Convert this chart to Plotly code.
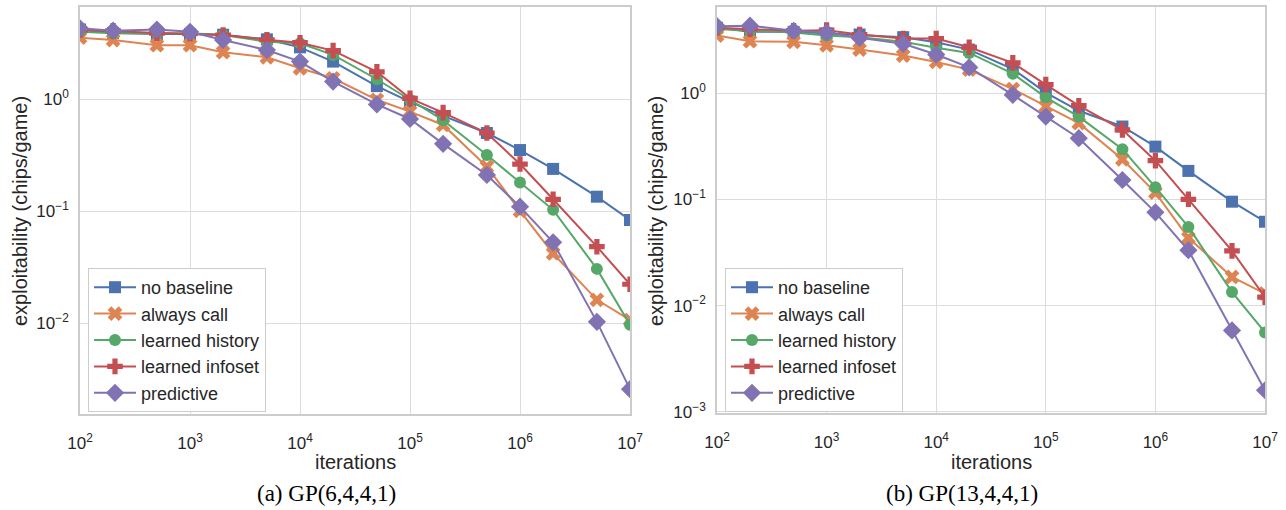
import plotly.graph_objects as go

iterations = [1e2, 2e2, 5e2, 1e3, 2e3, 5e3, 1e4, 2e4, 5e4, 1e5, 2e5, 5e5, 1e6, 2e6, 5e6, 1e7]

series_names = ["no baseline", "always call", "learned history", "learned infoset", "predictive"]

# (a) GP(6,4,4,1)
a_no_baseline = [4.2, 3.9, 3.83, 3.83, 3.77, 3.43, 2.91, 2.17, 1.31, 0.95, 0.71, 0.50, 0.352, 0.239, 0.135, 0.0836]
a_always_call = [3.55, 3.38, 3.04, 3.04, 2.63, 2.37, 1.89, 1.54, 0.99, 0.776, 0.59, 0.25, 0.101, 0.042, 0.0162, 0.0107]
a_learned_history = [4.0, 3.88, 3.88, 3.88, 3.75, 3.27, 3.16, 2.49, 1.51, 0.99, 0.65, 0.318, 0.181, 0.103, 0.0306, 0.0097]
a_learned_infoset = [4.15, 4.08, 3.9, 3.85, 3.75, 3.4, 3.2, 2.72, 1.76, 1.02, 0.76, 0.50, 0.264, 0.128, 0.0483, 0.0223]
a_predictive = [4.3, 4.1, 4.2, 4.0, 3.38, 2.75, 2.17, 1.44, 0.90, 0.667, 0.40, 0.211, 0.11, 0.0528, 0.0103, 0.00258]

# (b) GP(13,4,4,1)
b_no_baseline = [4.1, 3.76, 3.76, 3.63, 3.55, 3.35, 3.0, 2.56, 1.68, 1.01, 0.68, 0.484, 0.313, 0.185, 0.095, 0.0615]
b_always_call = [3.47, 3.07, 3.03, 2.81, 2.56, 2.25, 1.96, 1.66, 1.09, 0.748, 0.521, 0.238, 0.1155, 0.0434, 0.0186, 0.013]
b_learned_history = [4.0, 3.85, 3.7, 3.47, 3.35, 3.03, 2.66, 2.38, 1.52, 0.91, 0.60, 0.296, 0.13, 0.055, 0.0134, 0.0056]
b_learned_infoset = [4.1, 4.0, 3.85, 3.9, 3.55, 3.25, 3.25, 2.69, 1.92, 1.2, 0.76, 0.45, 0.231, 0.1, 0.0327, 0.012]
b_predictive = [4.25, 4.3, 3.85, 3.7, 3.3, 2.9, 2.3, 1.74, 0.96, 0.60, 0.376, 0.152, 0.0754, 0.0332, 0.00585, 0.0016]

panel_a = [a_no_baseline, a_always_call, a_learned_history, a_learned_infoset, a_predictive]
panel_b = [b_no_baseline, b_always_call, b_learned_history, b_learned_infoset, b_predictive]

captions = ["(a) GP(6,4,4,1)", "(b) GP(13,4,4,1)"]
x_title = "iterations"
y_title = "exploitability (chips/game)"
x_tick_vals = [1e2, 1e3, 1e4, 1e5, 1e6, 1e7]
x_tick_text = ["10<sup>2</sup>", "10<sup>3</sup>", "10<sup>4</sup>", "10<sup>5</sup>", "10<sup>6</sup>", "10<sup>7</sup>"]
y_tick_vals = [1e-3, 1e-2, 1e-1, 1e0]
y_tick_text = ["10<sup>−3</sup>", "10<sup>−2</sup>", "10<sup>−1</sup>", "10<sup>0</sup>"]

colors = ["#4c72b0", "#dd8452", "#55a868", "#c44e52", "#8172b3"]
symbols = ["square", "x", "circle", "cross", "diamond"]
msizes = [12, 13, 12, 13, 14]

W, H = 1286, 510
fig = go.Figure()

for p, panel in enumerate([panel_a, panel_b]):
    xa = "x" if p == 0 else "x2"
    ya = "y" if p == 0 else "y2"
    lg = "legend" if p == 0 else "legend2"
    for i, vals in enumerate(panel):
        fig.add_trace(go.Scatter(
            x=iterations, y=vals, name=series_names[i], mode="lines+markers",
            line=dict(color=colors[i], width=2),
            marker=dict(symbol=symbols[i], size=msizes[i], color=colors[i], line=dict(width=0)),
            xaxis=xa, yaxis=ya, legend=lg,
        ))

grid = "#dcdcdc"
font_family = "Liberation Sans, Arial, sans-serif"
txt = "#262626"

def xaxis(domain, anchor):
    return dict(domain=domain, anchor=anchor, type="log", range=[2, 7],
                tickmode="array", tickvals=x_tick_vals, ticktext=x_tick_text,
                showgrid=True, gridcolor=grid, gridwidth=1,
                showline=True, linecolor="#cccccc", linewidth=1.5, mirror=True,
                zeroline=False, ticks="", ticklabelstandoff=13, automargin=False,
                tickfont=dict(size=17, color=txt))

def yaxis(domain, anchor, rng):
    return dict(domain=domain, anchor=anchor, type="log", range=rng,
                tickmode="array", tickvals=y_tick_vals, ticktext=y_tick_text,
                showgrid=True, gridcolor=grid, gridwidth=1,
                showline=True, linecolor="#cccccc", linewidth=1.5, mirror=True,
                zeroline=False, ticks="", ticklabelstandoff=6, automargin=False,
                tickfont=dict(size=17, color=txt))

legend_common = dict(bgcolor="white", bordercolor="#cccccc", borderwidth=1,
                     font=dict(size=18, color=txt, family=font_family),
                     xanchor="left", yanchor="top", itemwidth=42,
                     tracegroupgap=0)

fig.update_layout(
    width=W, height=H,
    margin=dict(l=0, r=0, t=0, b=0, autoexpand=False),
    paper_bgcolor="white", plot_bgcolor="white",
    font=dict(family=font_family, color=txt),
    xaxis=xaxis([80 / W, 630 / W], "y"),
    yaxis=yaxis([1 - 414 / H, 1 - 7 / H], "x", [-2.81, 0.824]),
    xaxis2=xaxis([717 / W, 1265 / W], "y2"),
    yaxis2=yaxis([1 - 413 / H, 1 - 7 / H], "x2", [-3.01, 0.809]),
    legend=dict(x=88 / W, y=1 - 268 / H, **legend_common),
    legend2=dict(x=725 / W, y=1 - 268 / H, **legend_common),
    showlegend=True,
)

# axis titles
for cx in [355, 991]:
    fig.add_annotation(text=x_title, x=cx / W, y=1 - 462 / H, xref="paper", yref="paper",
                       showarrow=False, xanchor="center", yanchor="middle",
                       font=dict(size=20, color=txt))
for cx in [20, 656]:
    fig.add_annotation(text=y_title, x=cx / W, y=1 - 211 / H, xref="paper", yref="paper",
                       showarrow=False, xanchor="center", yanchor="middle", textangle=-90,
                       font=dict(size=20, color=txt))

for cap, cx in zip(captions, [326, 962]):
    fig.add_annotation(text=cap, x=cx / W, y=1 - 493 / H, xref="paper", yref="paper",
                       showarrow=False, xanchor="center", yanchor="middle",
                       font=dict(family="Liberation Serif, Times New Roman, serif", size=23, color="black"))

fig.write_html("out.html", config={"displayModeBar": False},
               post_script="document.body.style.margin='0';document.documentElement.style.overflow='hidden';")
